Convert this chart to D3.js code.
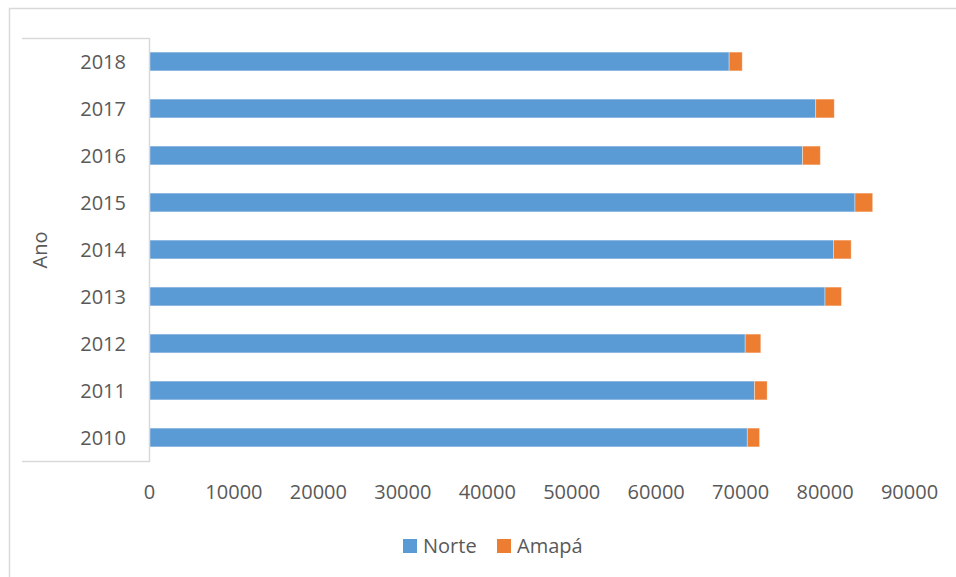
<!DOCTYPE html>
<html>
<head>
<meta charset="utf-8">
<script src="https://cdnjs.cloudflare.com/ajax/libs/d3/7.8.5/d3.min.js"></script>
<style>
  body { margin: 0; background: #fff; }
  svg text { font-family: "Open Sans", "Noto Sans", sans-serif; fill: #595959; }
</style>
</head>
<body>
<div id="chart"></div>
<script>
var anos = ['2018', '2017', '2016', '2015', '2014', '2013', '2012', '2011', '2010'];
var norte = [68700, 78950, 77400, 83600, 81050, 80050, 70600, 71700, 70850];
var amapa = [1550, 2200, 2100, 2100, 2100, 1950, 1850, 1500, 1450];
var xTicks = [0, 10000, 20000, 30000, 40000, 50000, 60000, 70000, 80000, 90000];
var seriesNames = ['Norte', 'Amapá'];

var col_blue = '#5B9BD5';
var col_orange = '#ED7D31';
var col_line = '#d9d9d9';

var width = 956, height = 577;
var plotLeft = 149, plotRight = 909, plotTop = 38, plotBottom = 461;

var svg = d3.select('#chart').append('svg')
    .attr('width', width)
    .attr('height', height);

// outer chart border (runs past the right/bottom edge)
svg.append('rect')
    .attr('x', 9.5).attr('y', 8.5)
    .attr('width', 960).attr('height', 580)
    .attr('fill', 'none')
    .attr('stroke', col_line)
    .attr('stroke-width', 1.5);

var x = d3.scaleLinear()
    .domain([0, 90000])
    .range([plotLeft, plotRight]);

var y = d3.scaleBand()
    .domain(anos)
    .range([plotTop, plotBottom])
    .paddingInner(0.6)
    .paddingOuter(0.3);

var rows = anos.map(function(a, i) {
    return {ano: a, Norte: norte[i], 'Amapá': amapa[i]};
});
var stacked = d3.stack().keys(seriesNames)(rows);
var colors = d3.scaleOrdinal().domain(seriesNames).range([col_blue, col_orange]);

svg.append('g').selectAll('g')
    .data(stacked)
    .join('g')
    .attr('fill', function(d) { return colors(d.key); })
    .selectAll('rect')
    .data(function(d) { return d; })
    .join('rect')
    .attr('x', function(d) { return x(d[0]); })
    .attr('y', function(d) { return y(d.data.ano); })
    .attr('width', function(d) { return x(d[1]) - x(d[0]); })
    .attr('height', y.bandwidth())
    .attr('stroke', 'rgba(255,255,255,0.45)')
    .attr('stroke-width', 0.8);

// category axis box: top line, axis line, bottom line
svg.append('path')
    .attr('d', 'M22,' + (plotTop + 0.5) + 'H' + (plotLeft + 0.5) + 'V' + (plotBottom + 0.5) + 'H22')
    .attr('fill', 'none')
    .attr('stroke', col_line)
    .attr('stroke-width', 1.5);

var yAxis = svg.append('g')
    .attr('transform', 'translate(126,0)')
    .call(d3.axisLeft(y).tickSize(0).tickPadding(0));
yAxis.select('.domain').remove();
yAxis.selectAll('text')
    .attr('dy', null)
    .attr('y', 7)
    .style('font-size', '20px')
    .attr('text-anchor', 'end');

var xAxis = svg.append('g')
    .attr('transform', 'translate(0,' + 499 + ')')
    .call(d3.axisBottom(x).tickValues(xTicks).tickFormat(d3.format('d')).tickSize(0).tickPadding(0));
xAxis.select('.domain').remove();
xAxis.selectAll('text')
    .attr('dy', null)
    .attr('y', 0)
    .style('font-size', '20px');

svg.append('text')
    .attr('transform', 'translate(47,250) rotate(-90)')
    .attr('text-anchor', 'middle')
    .style('font-size', '20px')
    .text('Ano');

// legend
var legend = svg.append('g');
var legendX = [403, 497];
seriesNames.forEach(function(name, i) {
    legend.append('rect')
        .attr('x', legendX[i]).attr('y', 539)
        .attr('width', 14).attr('height', 14)
        .attr('fill', colors(name));
    legend.append('text')
        .attr('x', legendX[i] + 20).attr('y', 553)
        .style('font-size', '20px')
        .text(name);
});
</script>
</body>
</html>
